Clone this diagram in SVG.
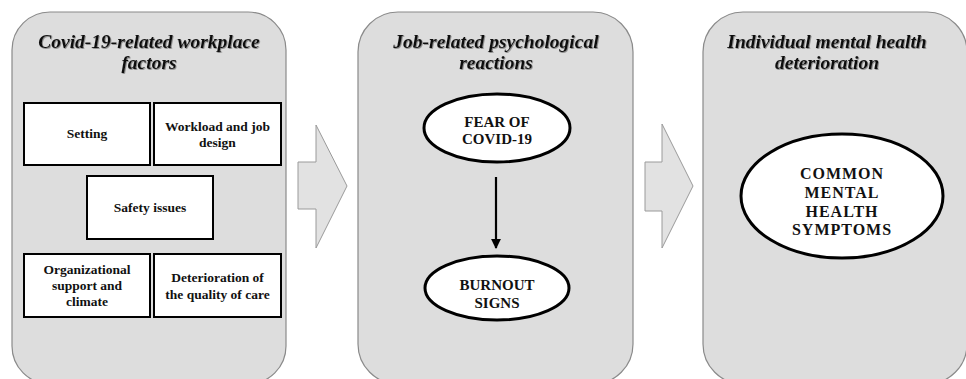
<svg xmlns="http://www.w3.org/2000/svg" width="966" height="379" viewBox="0 0 966 379">
<defs>
<filter id="sh" x="-5%" y="-20%" width="110%" height="140%">
<feDropShadow dx="0.8" dy="0.8" stdDeviation="0.6" flood-color="#666" flood-opacity="0.8"/>
</filter>
<marker id="ah" viewBox="0 0 10 10" refX="9" refY="5" markerWidth="4.5" markerHeight="5" orient="auto" markerUnits="strokeWidth">
<path d="M0,0 L10,5 L0,10 z" fill="#000"/>
</marker>
</defs>
<style>
.panel{fill:#dddddd;stroke:#8a8a8a;stroke-width:1.2}
.bigarrow{fill:#e2e2e2;stroke:#9a9a9a;stroke-width:1}
.box{fill:#fff;stroke:#000;stroke-width:2}
.ell{fill:#fff;stroke:#000;stroke-width:3}
.title{font-family:"Liberation Serif","Times New Roman",serif;font-weight:bold;font-style:italic;font-size:19.5px;fill:#111;text-anchor:middle;filter:url(#sh)}
.bt{font-family:"Liberation Serif","Times New Roman",serif;font-weight:bold;font-size:13.5px;fill:#111;text-anchor:middle}
.et{font-family:"Liberation Serif","Times New Roman",serif;font-weight:bold;font-size:15px;fill:#111;text-anchor:middle}
.ct{font-family:"Liberation Serif","Times New Roman",serif;font-weight:bold;font-size:16px;letter-spacing:1px;fill:#111;text-anchor:middle}
</style>
<g id="panel1">
<rect class="panel" x="12" y="12" width="274" height="372" rx="38" ry="38"/>
<text class="title" x="149" y="48">Covid-19-related workplace</text>
<text class="title" x="149" y="69">factors</text>
</g>
<g id="panel2">
<rect class="panel" x="358" y="12" width="275" height="372" rx="40" ry="40"/>
<text class="title" x="496" y="48">Job-related psychological</text>
<text class="title" x="496" y="69">reactions</text>
</g>
<g id="panel3">
<rect class="panel" x="703" y="12" width="264" height="372" rx="40" ry="40"/>
<text class="title" x="827" y="48">Individual mental health</text>
<text class="title" x="827" y="69">deterioration</text>
</g>
<g id="arrow1">
<path class="bigarrow" d="M298,162 L316,162 L316,125 L347,186 L316,248 L316,209 L298,209 Z"/>
</g>
<g id="arrow2">
<path class="bigarrow" d="M645,162 L662,162 L662,124 L693,186 L662,248 L662,211 L645,211 Z"/>
</g>
<g id="setting">
<rect class="box" x="24" y="103" width="126" height="62"/>
<text class="bt" x="87" y="138">Setting</text>
</g>
<g id="workload">
<rect class="box" x="154" y="103" width="127" height="62"/>
<text class="bt" x="217.5" y="131">Workload and job</text>
<text class="bt" x="217.5" y="147">design</text>
</g>
<g id="safety">
<rect class="box" x="87" y="176" width="126" height="63"/>
<text class="bt" x="150" y="212">Safety issues</text>
</g>
<g id="organizational">
<rect class="box" x="24" y="254" width="126" height="63"/>
<text class="bt" x="87" y="274">Organizational</text>
<text class="bt" x="87" y="290">support and</text>
<text class="bt" x="87" y="306">climate</text>
</g>
<g id="deterioration">
<rect class="box" x="154" y="254" width="127" height="63"/>
<text class="bt" x="217.5" y="282">Deterioration of</text>
<text class="bt" x="217.5" y="299">the quality of care</text>
</g>
<g id="fear">
<ellipse class="ell" cx="497" cy="128" rx="73" ry="34"/>
<text class="et" x="497" y="127">FEAR OF</text>
<text class="et" x="497" y="144">COVID-19</text>
</g>
<g id="burnout">
<ellipse class="ell" cx="497" cy="288" rx="72" ry="32"/>
<text class="et" x="497" y="290">BURNOUT</text>
<text class="et" x="497" y="308">SIGNS</text>
</g>
<g id="common">
<ellipse class="ell" cx="842" cy="196" rx="101" ry="62"/>
<text class="ct" x="842" y="179">COMMON</text>
<text class="ct" x="842" y="198">MENTAL</text>
<text class="ct" x="842" y="217">HEALTH</text>
<text class="ct" x="842" y="235">SYMPTOMS</text>
</g>
<g id="connectors">
<line x1="496" y1="177" x2="496" y2="248" stroke="#000" stroke-width="2.2" marker-end="url(#ah)"/>
</g>
</svg>
